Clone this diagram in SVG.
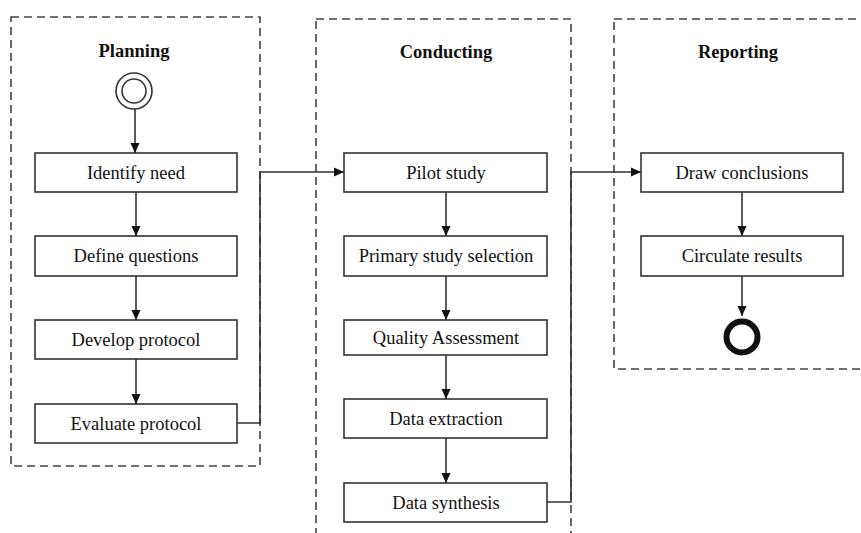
<svg xmlns="http://www.w3.org/2000/svg" width="861" height="533" viewBox="0 0 861 533">
<style>
.lane{fill:none;stroke:#444;stroke-width:1.6;stroke-dasharray:8 5}
.box{fill:#fff;stroke:#333;stroke-width:1.6}
.t{font-family:"Liberation Serif","Times New Roman",serif;font-size:18.5px;fill:#111;text-anchor:middle}
.h{font-family:"Liberation Serif","Times New Roman",serif;font-size:18.5px;font-weight:bold;fill:#111;text-anchor:middle}
.c{fill:none;stroke:#333;stroke-width:1.6}
</style>
<defs>
<marker id="ah" markerWidth="10" markerHeight="10" viewBox="0 0 10 10" refX="10" refY="5" orient="auto" markerUnits="userSpaceOnUse">
<path d="M0,0.5 L10,5 L0,9.5 Z" fill="#111"/>
</marker>
</defs>
<rect width="861" height="533" fill="#fff"/>
<g id="lane-planning">
<rect class="lane" x="11" y="17" width="249" height="449"/>
<text class="h" x="134" y="57">Planning</text>
</g>
<g id="lane-conducting">
<rect class="lane" x="316" y="19" width="255" height="530"/>
<text class="h" x="446" y="58">Conducting</text>
</g>
<g id="lane-reporting">
<rect class="lane" x="614" y="19" width="260" height="350"/>
<text class="h" x="738" y="58">Reporting</text>
</g>
<g id="start">
<circle cx="134" cy="91" r="18" fill="#fff" stroke="#333" stroke-width="1.6"/>
<circle cx="134" cy="91" r="12" fill="none" stroke="#333" stroke-width="1.6"/>
</g>
<g id="identify-need"><rect class="box" x="35" y="153" width="202" height="39"/><text class="t" x="136" y="179">Identify need</text></g>
<g id="define-questions"><rect class="box" x="35" y="236" width="202" height="40"/><text class="t" x="136" y="262">Define questions</text></g>
<g id="develop-protocol"><rect class="box" x="35" y="320" width="202" height="39"/><text class="t" x="136" y="346">Develop protocol</text></g>
<g id="evaluate-protocol"><rect class="box" x="35" y="404" width="202" height="39"/><text class="t" x="136" y="430">Evaluate protocol</text></g>
<g id="pilot-study"><rect class="box" x="344" y="153" width="203" height="39"/><text class="t" x="446" y="179">Pilot study</text></g>
<g id="primary-study-selection"><rect class="box" x="344" y="236" width="203" height="40"/><text class="t" x="446" y="262">Primary study selection</text></g>
<g id="quality-assessment"><rect class="box" x="344" y="320" width="203" height="35"/><text class="t" x="446" y="344">Quality Assessment</text></g>
<g id="data-extraction"><rect class="box" x="344" y="399" width="203" height="39"/><text class="t" x="446" y="425">Data extraction</text></g>
<g id="data-synthesis"><rect class="box" x="344" y="483" width="203" height="39"/><text class="t" x="446" y="509">Data synthesis</text></g>
<g id="draw-conclusions"><rect class="box" x="641" y="153" width="202" height="39"/><text class="t" x="742" y="179">Draw conclusions</text></g>
<g id="circulate-results"><rect class="box" x="641" y="236" width="202" height="40"/><text class="t" x="742" y="262">Circulate results</text></g>
<g id="end"><circle cx="742" cy="337" r="15.5" fill="#fff" stroke="#111" stroke-width="6"/></g>
<g id="connectors">
<line class="c" x1="135" y1="109" x2="135" y2="153" marker-end="url(#ah)"/>
<line class="c" x1="136" y1="192" x2="136" y2="236" marker-end="url(#ah)"/>
<line class="c" x1="136" y1="276" x2="136" y2="320" marker-end="url(#ah)"/>
<line class="c" x1="136" y1="359" x2="136" y2="404" marker-end="url(#ah)"/>
<polyline class="c" points="237,423 260,423 260,172 344,172" marker-end="url(#ah)"/>
<line class="c" x1="446" y1="192" x2="446" y2="236" marker-end="url(#ah)"/>
<line class="c" x1="446" y1="276" x2="446" y2="320" marker-end="url(#ah)"/>
<line class="c" x1="446" y1="355" x2="446" y2="399" marker-end="url(#ah)"/>
<line class="c" x1="446" y1="438" x2="446" y2="483" marker-end="url(#ah)"/>
<polyline class="c" points="547,502 571,502 571,172 641,172" marker-end="url(#ah)"/>
<line class="c" x1="742" y1="192" x2="742" y2="236" marker-end="url(#ah)"/>
<line class="c" x1="742" y1="276" x2="742" y2="316" marker-end="url(#ah)"/>
</g>
</svg>
